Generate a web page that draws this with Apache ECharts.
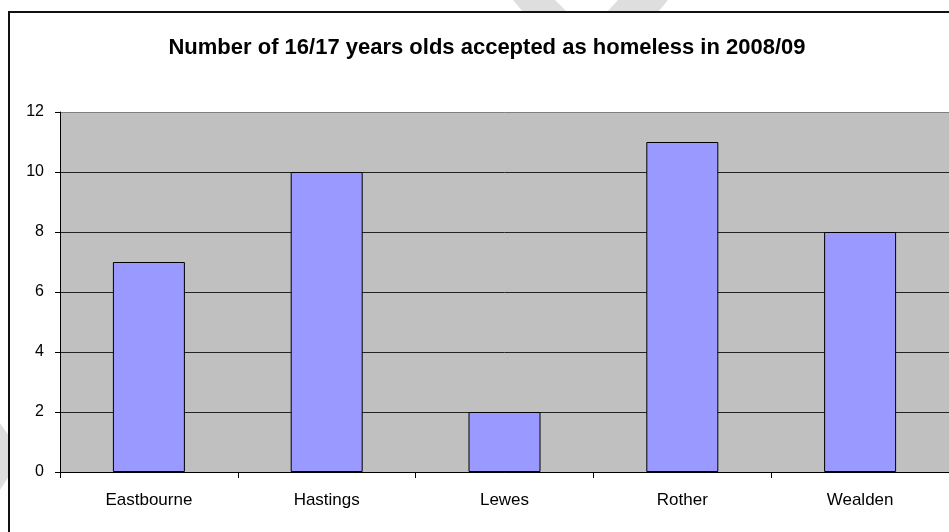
<!DOCTYPE html>
<html>
<head>
<meta charset="utf-8">
<script src="https://cdn.jsdelivr.net/npm/echarts@6/dist/echarts.min.js"></script>
<style>
  html, body { margin: 0; padding: 0; background: #ffffff; }
  #chart { width: 949px; height: 532px; }
</style>
</head>
<body>
<div id="chart"></div>
<script>
// Local authorities and the number of 16/17 year olds accepted as homeless
const districts = ['Eastbourne', 'Hastings', 'Lewes', 'Rother', 'Wealden'];
const accepted = [7, 10, 2, 11, 8];
const yTicks = [0, 2, 4, 6, 8, 10, 12];
const chartTitle = 'Number of 16/17 years olds accepted as homeless in 2008/09';

const chart = echarts.init(document.getElementById('chart'), null, { renderer: 'canvas' });

const FONT = '"Liberation Sans", Arial, sans-serif';

chart.setOption({
  animation: false,
  backgroundColor: '#ffffff',
  title: {
    text: chartTitle,
    left: 482,
    top: 32,
    textAlign: 'center',
    textStyle: {
      fontFamily: FONT,
      fontWeight: 'bold',
      fontSize: 22,
      color: '#000000'
    }
  },
  grid: {
    left: 60,
    top: 112,
    right: -1,
    bottom: 60,
    show: true,
    backgroundColor: '#c0c0c0',
    borderWidth: 0,
    containLabel: false
  },
  xAxis: {
    type: 'category',
    data: districts,
    axisLine: { show: true, lineStyle: { color: '#000000', width: 1 } },
    axisTick: { show: true, alignWithLabel: false, length: 6, lineStyle: { color: '#000000' } },
    axisLabel: {
      fontFamily: FONT,
      fontSize: 17,
      color: '#000000',
      margin: 20
    },
    splitLine: { show: false }
  },
  yAxis: {
    type: 'value',
    min: yTicks[0],
    max: yTicks[yTicks.length - 1],
    interval: 2,
    axisLine: { show: true, lineStyle: { color: '#000000', width: 1 } },
    axisTick: { show: true, length: 5, lineStyle: { color: '#000000' } },
    axisLabel: {
      fontFamily: FONT,
      fontSize: 16,
      color: '#000000',
      margin: 16
    },
    splitLine: {
      show: true,
      lineStyle: {
        color: ['#000000', '#222222', '#222222', '#222222', '#222222', '#222222', '#808080'],
        width: 1
      }
    }
  },
  series: [{
    type: 'bar',
    data: accepted,
    barWidth: 72,
    itemStyle: {
      color: '#9999ff',
      borderColor: '#000000',
      borderWidth: 1
    },
    label: { show: false }
  }],
  graphic: [
    // faint background shapes outside the chart frame
    {
      type: 'polygon', z: -10, silent: true,
      shape: { points: [[513, 0], [555, 0], [567, 12], [523, 12]] },
      style: { fill: '#dedede' }
    },
    {
      type: 'polygon', z: -10, silent: true,
      shape: { points: [[618, 0], [668, 0], [658, 12], [607, 12]] },
      style: { fill: '#dedede' }
    },
    {
      type: 'polygon', z: -10, silent: true,
      shape: { points: [[0, 423], [9, 436], [9, 476], [0, 490]] },
      style: { fill: '#dedede' }
    },
    // chart frame
    {
      type: 'rect', z: 100, silent: true,
      shape: { x: 9, y: 12, width: 1000, height: 600 },
      style: { fill: 'none', stroke: '#111111', lineWidth: 2 }
    }
  ]
});
</script>
</body>
</html>
